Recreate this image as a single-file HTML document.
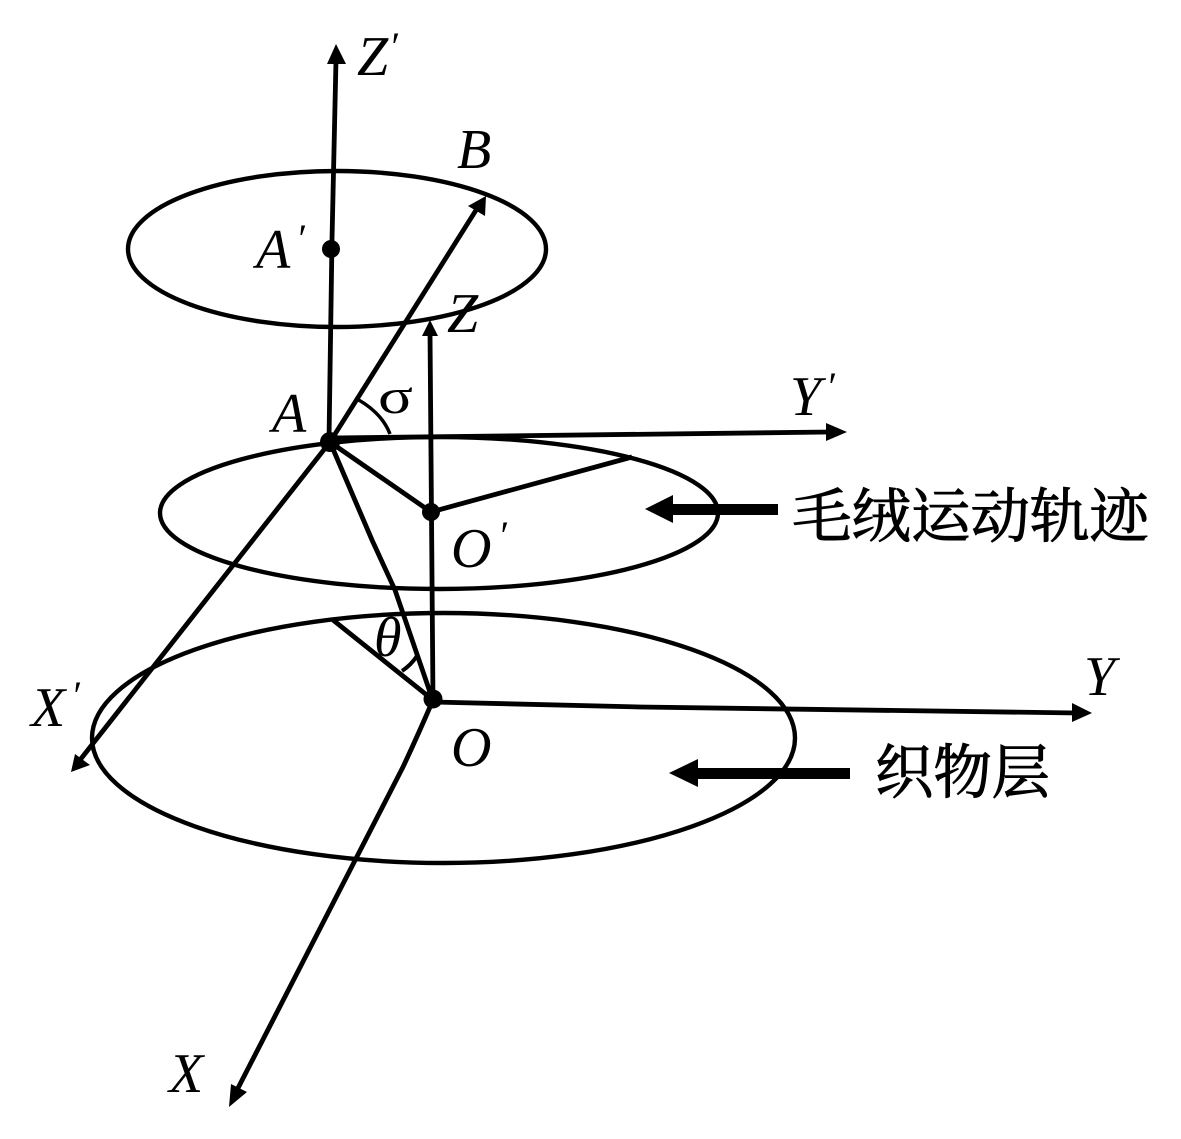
<!DOCTYPE html>
<html>
<head>
<meta charset="utf-8">
<style>
html,body{margin:0;padding:0;background:#fff;}
svg{display:block;}
.l{font-family:"Liberation Serif",serif;font-style:italic;font-size:56px;fill:#000;}
.p{font-family:"Liberation Serif",serif;font-style:italic;font-size:40px;fill:#000;}
.g{font-family:"Liberation Serif","DejaVu Serif",serif;font-size:50px;fill:#000;}
.c{font-family:"Liberation Serif","Noto Serif CJK SC",serif;font-size:59px;fill:#000;stroke:#000;stroke-width:1;}
</style>
</head>
<body>
<svg width="1181" height="1139" viewBox="0 0 1181 1139" xmlns="http://www.w3.org/2000/svg">
<g fill="none" stroke="#000" stroke-width="4.400">
<ellipse cx="337" cy="249" rx="209" ry="78"/>
<ellipse cx="439" cy="513" rx="279" ry="76"/>
<ellipse cx="443.500" cy="738" rx="351.500" ry="125"/>
</g>
<g fill="none" stroke="#000" stroke-width="4.800">
<!-- Z' axis -->
<path d="M336 60 L332 240 L329 440"/>
<!-- A-B and X' axis -->
<path d="M330 442 L478 207"/>
<path d="M330 442 L80 760"/>
<!-- Z axis -->
<path d="M433 700 L430 332"/>
<!-- Y' -->
<path d="M330 438 L830 432"/>
<!-- A-O' and O'-pt -->
<path d="M330 442 L431 512 L632 457"/>
<!-- A-O -->
<path d="M330 442 L372 540 L395 590 L432 698"/>
<!-- O to ellipse -->
<path d="M433 700 L333 620"/>
<!-- O-Y -->
<path d="M433 702 L640 707 L1078 713"/>
<!-- O-X -->
<path d="M433 700 Q418 735 403 767 L236 1092"/>
<!-- sigma arc -->
<path d="M357 399 Q382 413 390 434" stroke-width="3.500"/>
<!-- theta arc -->
<path d="M402 671 Q411 665 417 656" stroke-width="4"/>
</g>
<!-- Arrowheads -->
<g fill="#000" stroke="none">
<polygon points="336,44 327,64 346,64"/>
<polygon points="486,196 468,206 485,216"/>
<polygon points="430,320 422,336 438,336"/>
<polygon points="847,432 826,423 826,441"/>
<polygon points="1092,713 1072,703 1072,722"/>
<polygon points="71,772 75,754 90,765"/>
<polygon points="229,1107 231,1084 247,1092"/>
<!-- bold arrows -->
<polygon points="645,509 673,495 673,523"/>
<rect x="670" y="504" width="108" height="11"/>
<polygon points="669,773 698,759 698,787"/>
<rect x="695" y="768" width="155" height="11"/>
<!-- dots -->
<circle cx="331" cy="249" r="9"/>
<circle cx="330" cy="442" r="10"/>
<circle cx="431" cy="512" r="9"/>
<circle cx="433" cy="699" r="9.500"/>
</g>
<!-- Labels -->
<text class="l" x="357" y="75">Z</text><text class="p" x="389" y="60">′</text>
<text class="l" x="457" y="168">B</text>
<text class="l" x="256" y="268">A</text><text class="p" x="296" y="252">′</text>
<text class="l" x="447" y="332">Z</text>
<text class="l" x="272" y="432">A</text>
<text class="g" x="378" y="413" textLength="35" lengthAdjust="spacingAndGlyphs">σ</text>
<text class="l" x="790" y="415">Y</text><text class="p" x="826" y="400">′</text>
<text class="l" x="451" y="567">O</text><text class="p" x="498" y="549">′</text>
<text class="l" x="374" y="656">θ</text>
<text class="l" x="31" y="726">X</text><text class="p" x="71" y="709">′</text>
<text class="l" x="1084" y="695">Y</text>
<text class="l" x="451" y="766">O</text>
<text class="l" x="169" y="1092">X</text>
<text class="c" x="792" y="537" textLength="357" lengthAdjust="spacingAndGlyphs">毛绒运动轨迹</text>
<text class="c" x="875" y="793" textLength="175" lengthAdjust="spacingAndGlyphs">织物层</text>
</svg>
</body>
</html>
